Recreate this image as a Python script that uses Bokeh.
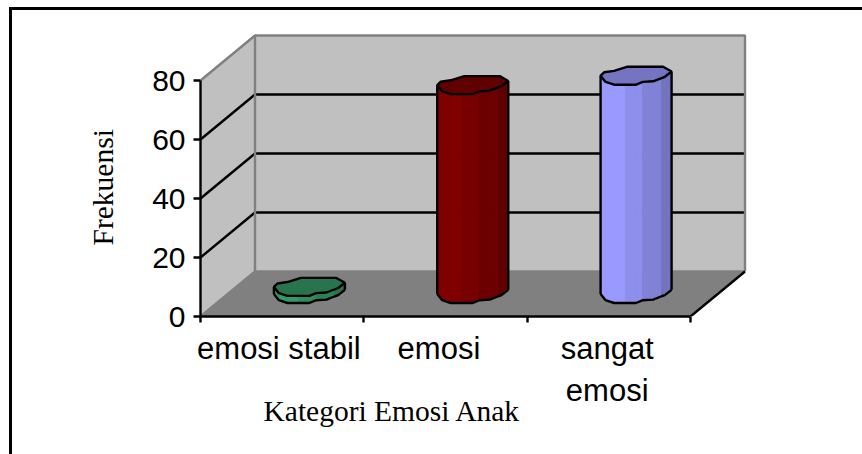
from bokeh.embed import file_html
from bokeh.resources import INLINE
from bokeh.plotting import figure
from bokeh.models import FixedTicker, InlineStyleSheet, LinearAxis, Range1d, Title

# ---- data ----
categories = ["emosi stabil", "emosi", "sangat\nemosi"]
values = [2.4, 70.8, 74]
colors = ["#339966", "#800000", "#9999FF"]
y_ticks = [0, 20, 40, 60, 80]
x_title = "Kategori Emosi Anak"
y_title = "Frekuensi"

# ---- geometry of the fake 3D box (data units) ----
Y_MAX = 80
N = len(categories)
PX_X = 490 / 3            # px per category
PX_Y = 236 / Y_MAX        # px per y unit
DX = 54.5 / PX_X          # box depth, horizontally
DY = 45 / PX_Y            # box depth, vertically
HW = 35.5 / PX_X          # half width of a column
HH = 9 / PX_Y             # half height of its lumpy ellipse
INK = "#000000"
EDGE = "#808080"
LW = 2.4

# lumpy ring of a column, as a fraction of its half width / half height
RING = [(-1, 0), (-.9, .38), (-.62, .54), (-.24, 1), (.76, 1), (1, .46),
        (.81, -.12), (.48, -.62), (.19, -.69), (0, -1), (-.62, -1), (-.86, -.69)]
FRONT = [(-1, 0), (-.86, -.69), (-.62, -1), (-.3, -1), (0, -1), (.19, -.69),
         (.48, -.62), (.72, -.25), (.81, -.12), (1, .46)]
SHADE = [1.0, 1.0, 1.0, .93, .93, .84, .84, .75, .75]

frame_left, frame_bottom = 200, 138
W, H = 862, 454
frame_css = InlineStyleSheet(css="""
:host::after { content: ""; position: absolute; left: 9px; top: 7px; right: 0; bottom: 0;
  border-left: 3px solid #000; border-top: 3px solid #000; pointer-events: none; z-index: 5; }
""")
p = figure(width=W, height=H, output_backend="svg", toolbar_location=None,
           x_axis_location=None, y_axis_location=None,
           x_range=Range1d(0, (W - frame_left) / PX_X),
           y_range=Range1d(0, (H - frame_bottom) / PX_Y),
           min_border_left=frame_left, min_border_bottom=frame_bottom,
           min_border_right=0, min_border_top=0,
           outline_line_color=None, background_fill_color="white",
           border_fill_color="white", stylesheets=[frame_css])
p.grid.visible = False

# walls and floor
p.patch([DX, DX + N, DX + N, DX], [DY, DY, DY + Y_MAX, DY + Y_MAX], fill_color="#C0C0C0", line_color=None)
p.patch([0, DX, DX, 0], [0, DY, DY + Y_MAX, Y_MAX], fill_color="#C0C0C0", line_color=None)
p.patch([0, N, N + DX, DX], [0, 0, DY, DY], fill_color=EDGE, line_color=None)

# gridlines
for t in y_ticks[1:-1]:
    p.line([0, DX, DX + N], [t, t + DY, t + DY], line_color=INK, line_width=LW)

# box edges
p.line([0, DX, DX + N, DX + N], [Y_MAX, DY + Y_MAX, DY + Y_MAX, DY], line_color=EDGE, line_width=LW)
p.line([DX, DX], [DY, DY + Y_MAX], line_color=EDGE, line_width=LW)
p.line([0, DX, DX + N], [0, DY, DY], line_color=EDGE, line_width=LW)
p.line([N, N + DX], [0, DY], line_color=INK, line_width=LW)


def scale(hex_color, k):
    c = [int(hex_color[i:i + 2], 16) for i in (1, 3, 5)]
    return "#%02X%02X%02X" % tuple(int(round(v * k)) for v in c)


for i, (v, col) in enumerate(zip(values, colors)):
    cx = i + .5 + DX / 2
    base = DY / 2
    top = base + v
    for j in range(len(FRONT) - 1):
        (u0, w0), (u1, w1) = FRONT[j], FRONT[j + 1]
        xs = [cx + u0 * HW, cx + u1 * HW, cx + u1 * HW, cx + u0 * HW]
        ys = [top + w0 * HH, top + w1 * HH, base + w1 * HH, base + w0 * HH]
        c = scale(col, SHADE[j])
        p.patch(xs, ys, fill_color=c, line_color=c, line_width=1)
    # silhouette of the body
    p.line([cx + u * HW for u, _ in FRONT], [base + w * HH for _, w in FRONT], line_color=INK, line_width=LW)
    for u, w in (FRONT[0], FRONT[-1]):
        p.line([cx + u * HW] * 2, [top + w * HH, base + w * HH], line_color=INK, line_width=LW)
    # lid
    p.patch([cx + u * HW for u, _ in RING], [top + w * HH for _, w in RING],
            fill_color=scale(col, .76), line_color=INK, line_width=LW)

# real axes
yaxis = LinearAxis(ticker=FixedTicker(ticks=y_ticks), bounds=(0, Y_MAX),
                   axis_line_color=INK, axis_line_width=LW,
                   major_tick_line_color=INK, major_tick_line_width=LW,
                   major_tick_in=0, major_tick_out=7, minor_tick_line_color=None,
                   major_label_text_font="Liberation Sans", major_label_text_font_size="30px",
                   major_label_text_color=INK, major_label_standoff=8)
p.add_layout(yaxis, "left")

label_ticks = [i + d for i, d in zip(range(N), (.48, .46, .49))]
edge_ticks = [float(i) for i in range(N + 1)]
xaxis = LinearAxis(ticker=FixedTicker(ticks=label_ticks, minor_ticks=edge_ticks), bounds=(0, N),
                   axis_line_color=INK, axis_line_width=LW,
                   major_tick_line_color=None, major_tick_in=0, major_tick_out=0,
                   minor_tick_line_color=INK, minor_tick_line_width=LW,
                   minor_tick_in=0, minor_tick_out=6,
                   major_label_overrides={t: c for t, c in zip(label_ticks, categories)},
                   major_label_text_font="Liberation Sans", major_label_text_font_size="31px",
                   major_label_text_color=INK, major_label_standoff=8)
p.add_layout(xaxis, "below")

# axis titles, off-centre as in the picture
title_style = dict(align="left", text_font="Liberation Serif", text_font_size="29.5px",
                   text_font_style="normal", text_color=INK)
p.add_layout(Title(text=y_title, offset=71, standoff=61, **title_style), "left")
p.add_layout(Title(text=x_title, offset=63, standoff=-39, vertical_align="middle", **title_style), "below")

open("out.html", "w").write(file_html(p, INLINE))
